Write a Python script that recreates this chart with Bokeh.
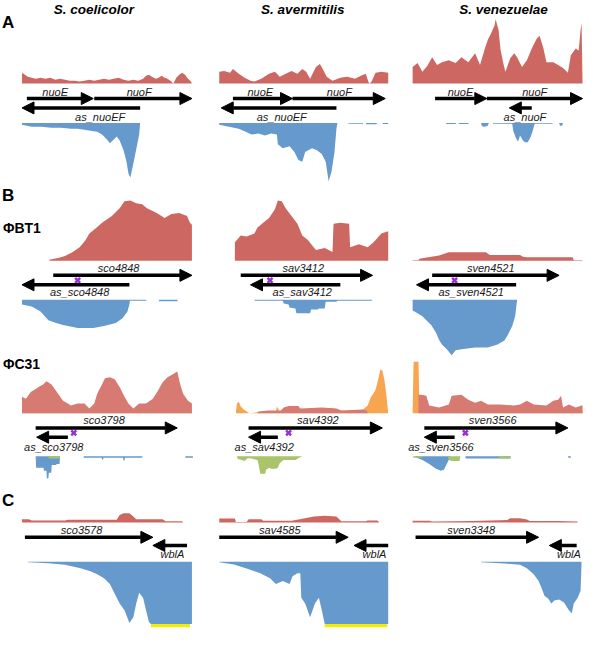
import numpy as np
from bokeh.plotting import figure
from bokeh.models import Range1d, ColumnDataSource, Arrow, NormalHead
from bokeh.core.properties import value
from bokeh.embed import file_html
from bokeh.resources import INLINE

# ------------------------------------------------------------------ DATA
species = ["S. coelicolor", "S. avermitilis", "S. venezuelae"]
panel_letters = ["A", "B", "C"]
phage_labels = ["\u03a6BT1", "\u03a6C31"]

# ---- Panel A (nuoEF) : sense (red) and antisense (blue) coverage
a_sco_sense_x = [0,3,6,10,14,19,24,29,34,39,44,49,54,59,64,69,74,79,84,89,94,99,104,109,114,119,124,127,130,133,137,140,143,146,149,152,155,158,161,164,167,170,173,174]
a_sco_sense_y = [11,9,7,6,5,6,5,6,4,5,4,3,3,2,3,4,3,4,5,4,5,6,4,3,4,3,5,8,9,7,5,6,8,6,5,3,0,6,9,11,9,5,2,0]
a_sav_sense_x = [0,5,11,14,20,26,32,36,43,51,57,62,68,74,80,85,89,93,99,103,106,110,116,124,131,139,145,150,153,154,156,160,166,173]
a_sav_sense_y = [12,13,11,15,10,6,3,2,5,10,12,7,10,13,10,15,12,5,17,20,15,7,3,6,7,5,8,10,1,0,2,11,12,11]
a_ven_sense_x = [0,5,10,15,20,25,30,37,44,50,57,64,69,74,77,80,84,85,88,90,93,95,100,104,107,112,117,122,127,130,134,137,144,149,154,159,162,167,170,172,173,174]
a_ven_sense_y = [17,21,12,18,27,19,22,24,21,27,22,31,19,36,45,51,60,66,55,35,20,12,26,31,27,17,24,36,46,49,36,22,22,19,16,11,29,36,34,55,62,0]

a_sco_anti_x = [0,10,20,30,40,50,57,64,70,77,82,87,90,94,97,100,104,107,109,111,114,117,120,121]
a_sco_anti_y = [2,4,4,5,5,6,6,7,8,9,12,17,21,17,14,18,28,40,52,56,42,27,12,0]
a_sav_anti_x = [0,10,20,27,33,40,47,53,59,60,65,72,77,81,85,88,91,95,100,105,109,112,115,118,120,121,132,132.5,147,147.5,150,150.5,161,161.5,167,167.5,173]
a_sav_anti_y = [2,4,6,9,12,11,13,11,12,22,26,24,30,38,40,30,28,26,28,32,40,60,50,30,6,0,0,1,1,0,0,1.5,1.5,0,0,1.2,1.2]
a_ven_anti_x = [34,34.5,44,44.5,47,47.5,57,57.5,70,71,74,77,78,82,82.5,102,103,106,108,110,113,115,118,121,123,125,127,143,143.5,150,151,153,154]
a_ven_anti_y = [0,1.2,1.2,0,0,1.2,1.2,0,0,3.5,4,3,0,0,1,1,8,16,19,13,18,20,20,14,8,1,1,1,0,0,3,3,0]

a_gene_names = [["nuoE", "nuoF", "as_nuoEF"], ["nuoE", "nuoF", "as_nuoEF"], ["nuoE", "nuoF", "as_nuoF"]]
a_gene_start = [[5, 74, 121], [14, 75, 120], [23, 76, 122]]
a_gene_end = [[73, 174, 0], [75, 170, 2], [76, 174, 99]]
a_gene_lane = [0, 0, 1]
a_label_x = [[34, 120, 80], [42, 123, 64], [49, 125, 115]]

# ---- Panel B, phage PhiBT1
b1_sco_sense_x = [28,38,44,52,59,65,69,75,82,92,100,105,111,117,123,128,138,146,153,161,169,172,174]
b1_sco_sense_y = [1,3,5,9,14,21,28,33,39,46,54,61,62,59,58,54,49,44,48,49,46,39,37]
b1_sav_sense_x = [16,22,28,36,39,45,51,57,60,64,68,74,80,85,91,95,99,108,116,117,124,133,134,143,152,158,166,172,173]
b1_sav_sense_y = [19,26,25,28,34,39,44,53,62,61,54,46,38,26,21,16,11,13,9,38,39,38,14,17,14,19,28,30,30]
b1_ven_sense_x = [0,6,7,16,27,37,41,75,79,84,110,113,117,164,165,174]
b1_ven_sense_y = [0.6,0.6,2,3.5,5.5,8.7,8.7,8.7,6,6,6,4,3.7,3.7,0.6,0.6]

b1_sco_anti_x = [0,10,19,27,35,42,57,73,84,96,103,108,110,110.5,127,127.5,140,140.5,159,159.5]
b1_sco_anti_y = [5,7,12,21,24,26,29,29,27,24,19,12,5,1,1,0,0,1.5,1.5,0]
b1_sav_anti_x = [36,36.5,65,66,71,72,78,79,93,94,101,102,108,109,120,121,156,157]
b1_sav_anti_y = [0,1,1,4,5,8,9,14,14,10,10,9,9,2,2,1,1,0]
b1_ven_anti_x = [0,5,10,14,19,24,27,30,35,40,44,50,64,77,87,94,97,102,105,107]
b1_ven_anti_y = [11,14,17,21,26,34,41,46,51,57,52,51,49,49,46,42,37,27,17,0]

b1_gene_names = [["sco4848", "as_sco4848"], ["sav3412", "as_sav3412"], ["sven4521", "as_sven4521"]]
b1_gene_start = [[32, 110], [22, 124], [20, 106]]
b1_gene_end = [[174, 0], [157, 32], [150, 4]]
b1_label_x = [[99, 59], [86, 85], [80, 60]]
b1_mutation_x = [57, 52, 43]

# ---- Panel B, phage PhiC31 (orange / green = second condition)
b2_sco_sense_x = [0,4,9,14,17,22,25,30,35,42,47,50,57,64,69,74,77,82,85,90,95,100,105,109,114,120,127,134,139,144,149,154,159,162,165,170,174]
b2_sco_sense_y = [17,15,22,25,27,30,33,30,23,13,10,8,10,10,5,10,20,30,36,37,35,27,17,10,5,10,10,15,23,32,37,40,43,30,20,13,10]
b2_sco_orange_x = [0,3,4,10,30,31,47,48,108,109,120,121,155,156,174]
b2_sco_orange_y = [14,14,4,2,2,4,4,2,2,4,4,2,2,4,4]
b2_sav_sense_x = [39,40,50,63,66,71,81,83,105,120,125,147,151,152]
b2_sav_sense_y = [0,2,3,3,6,7.5,7.5,5,6,5,3,4,3,0]
b2_sav_orange_x = [17,18,20,22,25,28,31,39,58,59,62,75,80,85,112,115,120,145,152,155,160,163,165,167,169,171,172,173]
b2_sav_orange_y = [0,10,12,7,4,2,0,1,1.5,7,2,2,4,2,2,6,3,2,8,16,24,36,45,44,35,20,10,0]
b2_ven_sense_x = [6,9,14,17,27,37,40,50,57,64,70,77,90,104,110,117,124,137,144,149,152,154,160,167,173,174]
b2_ven_sense_y = [19,19,18,8,6,9,18,19,14,11,13,9,9,8,9,13,9,8,13,14,18,6,9,6,8,8]
b2_ven_orange_x = [0,1,6,7,20,60,100,140,174]
b2_ven_orange_y = [0,53,53,5,3,4,3,3,3]

b2_sco_anti_x = [14,14.5,22,22.5,25,25.5,27,27.5,30,30.5,35,35.5,38.5,39,63,63.5,81.5,82,83,83.5,103.5,104,105,105.5,123,123.5,167,167.5,175]
b2_sco_anti_y = [0,12,12,15,15,23,23,17,17,9,9,8,8,0,0,1.7,1.7,3.5,3.5,1.7,1.7,4.5,4.5,1.7,1.7,0,0,1.7,1.7]
b2_sco_green_x = [27,27.5,38.5,39]
b2_sco_green_y = [0,2.5,2.5,0]
b2_sav_green_x = [18,19,23,26,29,32,39,40,42,47,48,51,53,58,60,62,66,78,81,85]
b2_sav_green_y = [0,3,4,5,2,2,4,7,18,18,14,12,13,13,12,7,4,4,2,0]
b2_ven_anti_x = [3,10,17,24,29,32,37,39,54,54.5,100,100.5,159,159.5,162]
b2_ven_anti_y = [1,4,8,13,15,14,4,0,0,2.3,2.3,0,0,1.5,1.5]
b2_ven_green_x = [0,1,10,10.5,36,37,40,48,49,88,88.5,100,100.5]
b2_ven_green_y = [0,1.5,1.5,0,0,4,5,5,0,0,2.3,2.3,0]

b2_gene_names = [["sco3798", "as_sco3798"], ["sav4392", "as_sav4392"], ["sven3566", "as_sven3566"]]
b2_gene_start = [[14, 47], [30, 60], [12, 43]]
b2_gene_end = [[159, 15], [167, 30], [159, 12]]
b2_label_x = [[84, 32.5], [101, 46], [82, 29]]
b2_mutation_x = [53, 71, 54]

# ---- Panel C (wblA)
c_sco_sense_x = [0,7,10,44,47,97,100,104,110,114,117,144,147,164,165]
c_sco_sense_y = [3.3,3.3,2,2,2.7,2.7,7.7,9.3,9.3,6,3.3,3.3,1.3,1.3,0]
c_sav_sense_x = [0,16,17,28,30,43,45,74,81,97,108,120,125,150,152,162,164]
c_sav_sense_y = [4,4,0.5,0.5,3.3,3.3,1.7,1.7,3,6,6.7,6,1.3,1.3,2,2,0]
c_ven_sense_x = [0,17,20,60,80,97,100,110,117,120,150,169]
c_ven_sense_y = [1.7,1.7,1,1.5,2,2.5,4.3,4.3,3,1.5,1.5,1]

c_sco_anti_x = [6,27,44,60,70,77,84,90,95,100,105,110,114,117,120,124,127,130,132,174]
c_sco_anti_y = [0.7,1.7,3.3,6.7,10,13,17,23,33,43,50,63,57,43,32,37,50,62,64,64]
c_sav_anti_x = [0,15,28,42,52,58,65,72,75,80,83,84,88,93,98,102,105,108,173]
c_sav_anti_y = [0.7,3,7,12,17,23,20,23,15,12,12,37,43,57,43,37,50,64,64]
c_ven_anti_x = [70,94,110,117,124,129,132,135,139,142,145,150,155,160,163,165,169,172,173]
c_ven_anti_y = [0.7,2,3.3,6.7,13,20,27,35,38,43,40,39,42,50,53,43,37,30,0]

c_gene_names = [["sco3578", "wblA"], ["sav4585", "wblA"], ["sven3348", "wblA"]]
c_gene_start = [[3, 169], [0, 173], [3, 168]]
c_gene_end = [[134, 134], [132, 138], [129, 140]]
c_label_x = [[61, 154], [62, 159], [60, 160]]
c_highlight = [[132, 172], [108, 172], None]

# ------------------------------------------------------------------ LAYOUT / STYLE
COL_X0 = [23, 225, 423]
TITLE_X = [96.5, 310.5, 516]
RED = "#cd6761"
RED_C31 = "#d77a72"
BLUE = "#6699cc"
ORANGE = "#f8a54f"
GREEN = "#a9c46b"
YELLOW = "#f5ec00"
PURPLE = "#9b2fd6"
FONT = value("Liberation Sans")

# label rows are given as the visual centre of the text
ROW_A = dict(sense=82.3, lanes=(97.7, 107.3), anti=122.7, labels=(91.2, 116.2))
ROW_B1 = dict(sense=264.3, lanes=(279.3, 289.0), anti=304.3, labels=(271.8, 296.5), mark=284.5)
ROW_B2 = dict(sense=421.0, lanes=(436.0, 445.5), anti=465.0, labels=(427.6, 455.6), mark=441.0)
ROW_C = dict(sense=533.0, lanes=(548.3, 556.7), anti=573.3, labels=(541.2, 565.5))

p = figure(width=584, height=629, output_backend="svg", toolbar_location=None,
           x_range=Range1d(1, 599), y_range=Range1d(643, -3), min_border=0)
p.axis.visible = False
p.xgrid.visible = False
p.ygrid.visible = False
p.outline_line_color = None
p.background_fill_color = "white"


def area(xs, vals, col, base, up, color):
    xs = np.asarray(xs, float) + COL_X0[col]
    v = np.asarray(vals, float)
    y2 = base - v if up else base + v
    p.varea(x=xs, y1=np.full_like(xs, base), y2=y2, fill_color=color)


def genes(row, names, starts, ends, lanes, label_x, col):
    x0 = COL_X0[col]
    ys = [row["lanes"][l] for l in lanes]
    src = ColumnDataSource(dict(xs=[s + x0 for s in starts], xe=[e + x0 for e in ends], y=ys))
    p.add_layout(Arrow(source=src, x_start="xs", y_start="y", x_end="xe", y_end="y",
                       line_width=3.5, line_color="black",
                       end=NormalHead(size=12, fill_color="black", line_color="black", line_width=1)))
    ly = [row["labels"][l] for l in lanes]
    lsrc = ColumnDataSource(dict(x=[lx + x0 for lx in label_x], y=ly, t=names))
    p.text(x="x", y="y", text="t", source=lsrc, text_font=FONT, text_font_style="italic",
           text_font_size="11px", text_align="center", text_baseline="middle",
           text_color="#1a1a1a")


# ---- Panel A
for c, (sx, sy, ax, ay) in enumerate([(a_sco_sense_x, a_sco_sense_y, a_sco_anti_x, a_sco_anti_y),
                                       (a_sav_sense_x, a_sav_sense_y, a_sav_anti_x, a_sav_anti_y),
                                       (a_ven_sense_x, a_ven_sense_y, a_ven_anti_x, a_ven_anti_y)]):
    area(sx, sy, c, ROW_A["sense"], True, RED)
    area(ax, ay, c, ROW_A["anti"], False, BLUE)
    genes(ROW_A, a_gene_names[c], a_gene_start[c], a_gene_end[c], a_gene_lane, a_label_x[c], c)

# ---- Panel B, PhiBT1
for c, (sx, sy, ax, ay) in enumerate([(b1_sco_sense_x, b1_sco_sense_y, b1_sco_anti_x, b1_sco_anti_y),
                                       (b1_sav_sense_x, b1_sav_sense_y, b1_sav_anti_x, b1_sav_anti_y),
                                       (b1_ven_sense_x, b1_ven_sense_y, b1_ven_anti_x, b1_ven_anti_y)]):
    area(sx, sy, c, ROW_B1["sense"], True, RED)
    area(ax, ay, c, ROW_B1["anti"], False, BLUE)
    genes(ROW_B1, b1_gene_names[c], b1_gene_start[c], b1_gene_end[c], [0, 1], b1_label_x[c], c)
p.scatter(x=[m + x0 for m, x0 in zip(b1_mutation_x, COL_X0)], y=[ROW_B1["mark"]] * 3,
          marker="x", size=7, line_color=PURPLE, line_width=2.5)

# ---- Panel B, PhiC31
for c, (ox, oy, sx, sy) in enumerate([(b2_sco_orange_x, b2_sco_orange_y, b2_sco_sense_x, b2_sco_sense_y),
                                       (b2_sav_orange_x, b2_sav_orange_y, b2_sav_sense_x, b2_sav_sense_y),
                                       (b2_ven_orange_x, b2_ven_orange_y, b2_ven_sense_x, b2_ven_sense_y)]):
    area(ox, oy, c, ROW_B2["sense"], True, ORANGE)
    area(sx, sy, c, ROW_B2["sense"], True, RED_C31)
area(b2_sco_anti_x, b2_sco_anti_y, 0, ROW_B2["anti"], False, BLUE)
area(b2_sco_green_x, b2_sco_green_y, 0, ROW_B2["anti"], False, GREEN)
area(b2_sav_green_x, b2_sav_green_y, 1, ROW_B2["anti"], False, GREEN)
area(b2_ven_anti_x, b2_ven_anti_y, 2, ROW_B2["anti"], False, BLUE)
area(b2_ven_green_x, b2_ven_green_y, 2, ROW_B2["anti"], False, GREEN)
for c in range(3):
    genes(ROW_B2, b2_gene_names[c], b2_gene_start[c], b2_gene_end[c], [0, 1], b2_label_x[c], c)
p.scatter(x=[m + x0 for m, x0 in zip(b2_mutation_x, COL_X0)], y=[ROW_B2["mark"]] * 3,
          marker="x", size=7, line_color=PURPLE, line_width=2.5)

# ---- Panel C
for c, (sx, sy, ax, ay) in enumerate([(c_sco_sense_x, c_sco_sense_y, c_sco_anti_x, c_sco_anti_y),
                                       (c_sav_sense_x, c_sav_sense_y, c_sav_anti_x, c_sav_anti_y),
                                       (c_ven_sense_x, c_ven_sense_y, c_ven_anti_x, c_ven_anti_y)]):
    area(sx, sy, c, ROW_C["sense"], True, RED)
    area(ax, ay, c, ROW_C["anti"], False, BLUE)
    genes(ROW_C, c_gene_names[c], c_gene_start[c], c_gene_end[c], [0, 1], c_label_x[c], c)
    if c_highlight[c] is not None:
        h0, h1 = c_highlight[c]
        top = ROW_C["anti"] + max(ay)
        p.quad(left=h0 + COL_X0[c], right=h1 + COL_X0[c], top=top, bottom=top + 3.4,
               fill_color=YELLOW, line_color=None)

# ---- titles and panel letters (y = visual centre of the text)
p.text(x=TITLE_X, y=[6.5] * 3, text=species, text_font=FONT, text_font_style="bold italic",
       text_font_size="13.5px", text_align="center", text_baseline="middle", text_color="black")
p.text(x=[2.5] * 3, y=[20, 197.5, 511], text=panel_letters, text_font=FONT, text_font_style="bold",
       text_font_size="17px", text_align="left", text_baseline="middle", text_color="black")
p.text(x=[3.5] * 2, y=[230.3, 370.2], text=phage_labels, text_font=FONT, text_font_style="bold",
       text_font_size="14px", text_align="left", text_baseline="middle", text_color="black")

open("out.html", "w").write(file_html(p, INLINE))
